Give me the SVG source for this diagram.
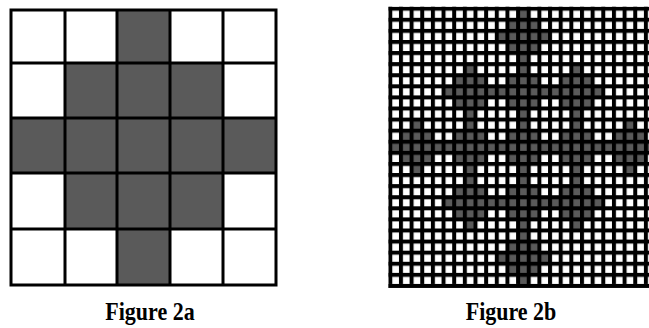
<svg xmlns="http://www.w3.org/2000/svg" xmlns:xlink="http://www.w3.org/1999/xlink" width="649" height="328" viewBox="0 0 649 328">
<style>
.g{fill:#5a5a5a}
.ln{stroke:#000;stroke-width:3;fill:none;stroke-linecap:square}
.cap{font-family:"Liberation Serif","Times New Roman",serif;font-weight:bold;font-size:22px;text-anchor:middle;fill:#000}
</style>
<defs>
<g id="mini" class="g">
<rect x="21.3" y="0" width="10.65" height="11.09"/>
<rect x="10.65" y="11.09" width="31.95" height="11.09"/>
<rect x="0" y="22.18" width="53.25" height="11.09"/>
<rect x="10.65" y="33.27" width="31.95" height="11.09"/>
<rect x="21.3" y="44.36" width="10.65" height="11.09"/>
</g>
<pattern id="grid" patternUnits="userSpaceOnUse" x="388.3" y="6.7" width="10.65" height="11.09">
<rect x="0" y="0" width="10.65" height="4" fill="#000"/>
<rect x="0" y="0" width="4" height="11.09" fill="#000"/>
</pattern>
</defs>
<rect width="649" height="328" fill="#fff"/>
<g id="figure2a">
<g class="g">
<rect x="117" y="10" width="53" height="53"/>
<rect x="65" y="63" width="158" height="55"/>
<rect x="11" y="118" width="265" height="55"/>
<rect x="65" y="173" width="158" height="56"/>
<rect x="117" y="229" width="53" height="56"/>
</g>
<path class="ln" d="M11 10V285M65 10V285M117 10V285M170 10V285M223 10V285M276 10V285M11 10H276M11 63H276M11 118H276M11 173H276M11 229H276M11 285H276"/>
</g>
<g id="figure2b">
<g id="cells">
<use xlink:href="#mini" x="496.8" y="8.7"/>
<use xlink:href="#mini" x="443.55" y="64.15"/>
<use xlink:href="#mini" x="496.8" y="64.15"/>
<use xlink:href="#mini" x="550.05" y="64.15"/>
<use xlink:href="#mini" x="390.3" y="119.6"/>
<use xlink:href="#mini" x="443.55" y="119.6"/>
<use xlink:href="#mini" x="496.8" y="119.6"/>
<use xlink:href="#mini" x="550.05" y="119.6"/>
<use xlink:href="#mini" x="603.3" y="119.6"/>
<use xlink:href="#mini" x="443.55" y="175.05"/>
<use xlink:href="#mini" x="496.8" y="175.05"/>
<use xlink:href="#mini" x="550.05" y="175.05"/>
<use xlink:href="#mini" x="496.8" y="230.5"/>
</g>
<rect x="388.3" y="6.7" width="260.7" height="277.25" fill="url(#grid)"/>
<rect x="388.3" y="283.95" width="260.7" height="4" fill="#000"/>
</g>
<g id="captions">
<text class="cap" transform="translate(150,320) scale(1,1.12)">Figure 2a</text>
<text class="cap" transform="translate(511,320) scale(1,1.12)">Figure 2b</text>
</g>
</svg>
